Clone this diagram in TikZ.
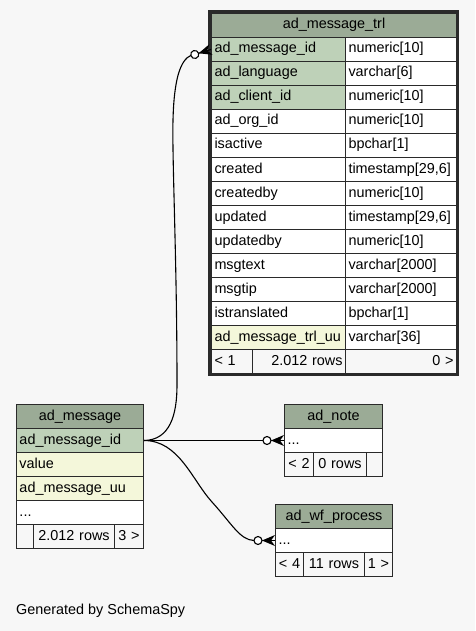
\documentclass[tikz,border=0pt]{standalone}
\usepackage{fontspec}
\setmainfont{Liberation Sans}
\definecolor{bg}{HTML}{F7F7F7}
\definecolor{hdr}{HTML}{9BAB96}
\definecolor{pk}{HTML}{BED1B8}
\definecolor{idx}{HTML}{F4F7DA}
\definecolor{bd}{HTML}{2A2A2A}
\tikzset{
  cell/.style={draw=bd, line width=1pt, inner xsep=3pt, inner ysep=0pt,
    anchor=north west, font=\fontsize{14.4}{16}\selectfont,
    text height=10pt, text depth=3pt},
  edge/.style={draw=black, line width=1.1pt},
  crowdot/.pic={
    \fill[black] (-13,0) -- (0,-5.5) -- (-4,0) -- (0,5.5) -- cycle;
    \draw[edge] (-13,0) -- (0,0);
    \draw[edge, fill=white] (-17,0) circle (4);
  }
}
\newcommand\dbcell[8]{%
  \pgfmathsetmacro\dbtw{#4-6}%
  \node[cell, fill=#6, minimum width=#4pt, minimum height=#5pt,
        text width=\dbtw pt, align=#7] (#1) at (#2,#3) {#8};}
\begin{document}
\begin{tikzpicture}[x=1pt, y=-1pt]
\useasboundingbox[fill=bg] (0,0) rectangle (475,631);

% ---------- ad_message_trl ----------
\dbcell{trlh}{211}{13}{245}{24}{hdr}{center}{ad\_message\_trl}
\foreach \n/\t/\fa/\fb [count=\i] in {
  ad\_message\_id/numeric[10]/pk/white,
  ad\_language/varchar[6]/pk/white,
  ad\_client\_id/numeric[10]/pk/white,
  ad\_org\_id/numeric[10]/white/white,
  isactive/bpchar[1]/white/white,
  created/{timestamp[29,6]}/white/white,
  createdby/numeric[10]/white/white,
  updated/{timestamp[29,6]}/white/white,
  updatedby/numeric[10]/white/white,
  msgtext/varchar[2000]/white/white,
  msgtip/varchar[2000]/white/white,
  istranslated/bpchar[1]/white/white,
  ad\_message\_trl\_uu/varchar[36]/idx/white}{
  \pgfmathsetmacro\yy{13+24*\i}
  \dbcell{trlc\i}{211}{\yy}{134}{24}{\fa}{left}{\n}
  \dbcell{trlt\i}{345}{\yy}{111}{24}{\fb}{left}{\t}
}
\dbcell{trlf1}{211}{349}{41}{24}{bg}{left}{< 1}
\dbcell{trlf2}{252}{349}{93}{24}{bg}{right}{2.012 rows}
\dbcell{trlf3}{345}{349}{111}{24}{bg}{right}{0 >}
\draw[bd, line width=3pt] (209.5,11.5) rectangle (457.5,374.5);

% ---------- ad_message ----------
\dbcell{amh}{16}{404}{127}{24}{hdr}{center}{ad\_message}
\dbcell{amid}{16}{428}{127}{24}{pk}{left}{ad\_message\_id}
\dbcell{amval}{16}{452}{127}{24}{idx}{left}{value}
\dbcell{amuu}{16}{476}{127}{24}{idx}{left}{ad\_message\_uu}
\dbcell{amdots}{16}{500}{127}{24}{white}{left}{...}
\dbcell{amf1}{16}{524}{17}{24}{bg}{center}{}
\dbcell{amf2}{33}{524}{81}{24}{bg}{center}{2.012 rows}
\dbcell{amf3}{114}{524}{29}{24}{bg}{center}{3 >}

% ---------- ad_note ----------
\dbcell{noh}{284}{404}{98}{24}{hdr}{center}{ad\_note}
\dbcell{nodots}{284}{428}{98}{24}{white}{left}{...}
\dbcell{nof1}{284}{452}{29}{24}{bg}{center}{< 2}
\dbcell{nof2}{313}{452}{53}{24}{bg}{center}{0 rows}
\dbcell{nof3}{366}{452}{16}{24}{bg}{center}{}

% ---------- ad_wf_process ----------
\dbcell{wfh}{275}{504}{117}{24}{hdr}{center}{ad\_wf\_process}
\dbcell{wfdots}{275}{528}{117}{24}{white}{left}{...}
\dbcell{wff1}{275}{552}{28}{24}{bg}{center}{< 4}
\dbcell{wff2}{303}{552}{61}{24}{bg}{center}{11 rows}
\dbcell{wff3}{364}{552}{28}{24}{bg}{center}{1 >}

% ---------- connectors ----------
\draw[edge] (amid.east) -- ([xshift=-21pt]nodots.west);
\pic at (nodots.west) {crowdot};

\draw[edge] (amid.east) .. controls +(35,0) and (192,480) .. (212,502)
  .. controls (232,524) and (240,540) .. ([xshift=-21pt]wfdots.west);
\pic at (wfdots.west) {crowdot};

\draw[edge] (amid.east) .. controls (170,440) and (177,415) .. (177,385)
  .. controls (177,260) and (172,160) .. (173,120)
  .. controls (174,80) and (180,60) .. (191.2,55.2);
\pic[rotate=17] at (trlc1.west) {crowdot};

% ---------- footer ----------
\node[anchor=base west, inner sep=0pt, font=\fontsize{14.4}{16}\selectfont] (gen) at (16,614) {Generated by SchemaSpy};
\end{tikzpicture}
\end{document}
